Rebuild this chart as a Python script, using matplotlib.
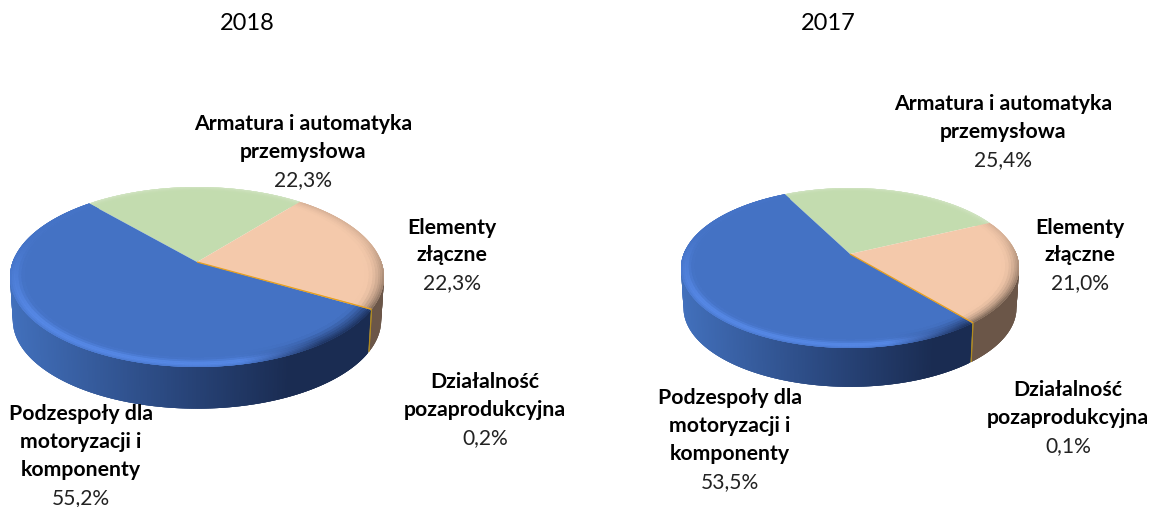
import numpy as np
import matplotlib
matplotlib.use("Agg")
import matplotlib.pyplot as plt
from matplotlib.collections import PolyCollection
from matplotlib.colors import to_rgb

plt.rcParams['font.family'] = ['Lato', 'DejaVu Sans']

# ---- data ----
segments = ["Armatura i automatyka\nprzemysłowa", "Elementy\nzłączne",
            "Działalność\npozaprodukcyjna", "Podzespoły dla\nmotoryzacji i\nkomponenty"]
values_2018 = [22.3, 22.3, 0.2, 55.2]
values_2017 = [25.4, 21.0, 0.1, 53.5]
labels_2018 = ["22,3%", "22,3%", "0,2%", "55,2%"]
labels_2017 = ["25,4%", "21,0%", "0,1%", "53,5%"]
colors = ["#C3DCAF", "#F4C9AB", "#E8A020", "#4472C4"]
side_right = ["#8AA07A", "#6B5648", "#B08A20", "#1A2C52"]

# ---- layout (pixels of the 1156x507 canvas) ----
pies = [
    dict(title="2018", tx=247, vals=values_2018, labs=labels_2018, cx=197, cy=277, rx=187, ry=90,
         k=1/6, depth=43, start=131.2,
         pos=[(303, 124.5), (452, 227.5), (485, 382.5), (81, 414.5)]),
    dict(title="2017", tx=828, vals=values_2017, labs=labels_2017, cx=850, cy=268, rx=169, ry=80,
         k=0.175, depth=40, start=117.0,
         pos=[(1003, 104.5), (1080, 227.5), (1068, 390.5), (730, 398.5)]),
]
LINE = 27.8

fig = plt.figure(figsize=(11.56, 5.07), dpi=100)
ax = fig.add_axes([0, 0, 1, 1])
ax.set_xlim(0, 1156)
ax.set_ylim(507, 0)
ax.axis('off')


def mix(a, b, t):
    t = float(np.clip(t, 0, 1))
    return tuple((1 - t) * x + t * y for x, y in zip(to_rgb(a), to_rgb(b)))


def draw_pie(ax, p):
    k = p['k']
    a = p['rx'] * np.sqrt(1 - k * k)

    def project(theta, r=1.0, drop=0.0, s=1.0):
        u, v = r * np.cos(theta), r * np.sin(theta)
        w = 1 + k * v
        return (p['cx'] + s * a * u / w,
                p['cy'] + drop - s * p['ry'] * (v + k) / w)

    # slice boundaries run clockwise from the start angle
    angs = np.radians(p['start'] - np.cumsum([0] + list(p['vals'])) * 3.6)

    # side wall: overlapping strips painted in order, so no seams show
    polys, cols = [], []
    for i in range(4):
        step = np.radians(0.5)
        n = max(2, int(abs(angs[i] - angs[i + 1]) / step))
        th = np.linspace(angs[i], angs[i + 1], n + 1)
        for t0, t1 in zip(th[:-1], th[1:]):
            if np.sin((t0 + t1) / 2) > 0.05:
                continue
            t1x = max(t1 - 2 * step, angs[i + 1])
            tt = np.linspace(t0, t1x, 4)
            top = [project(t) for t in tt]
            bot = [project(t, drop=p['depth'], s=0.985) for t in tt[::-1]]
            f = (project(t0)[0] - (p['cx'] - p['rx'])) / (2 * p['rx'])
            if i == 3:
                if f < 0.45:
                    c = mix("#4270BC", "#29467C", f / 0.45)
                else:
                    c = mix("#29467C", side_right[3], (f - 0.45) / 0.3)
            else:
                c = side_right[i]
            polys.append(top + bot)
            cols.append(c)
    ax.add_collection(PolyCollection(polys, facecolors=cols, edgecolors='none', zorder=2))

    # top face: one solid sector per slice
    polys, cols = [], []
    for i in range(4):
        tt = np.linspace(angs[i], angs[i + 1], 200)
        polys.append([project(0, 0.0)] + [project(t) for t in tt])
        cols.append(colors[i])
    ax.add_collection(PolyCollection(polys, facecolors=cols, edgecolors='none', zorder=3))

    # soft bevel at the front rim: outer rings first, inner ones overlap them
    rings = [0.90, 0.92, 0.94, 0.955, 0.97, 0.98, 0.99, 1.0]
    polys, cols = [], []
    for i in (0, 1, 3):
        step = np.radians(1.0)
        n = max(2, int(abs(angs[i] - angs[i + 1]) / step))
        th = np.linspace(angs[i], angs[i + 1], n + 1)
        for t0, t1 in zip(th[:-1], th[1:]):
            tm = (t0 + t1) / 2
            f = (project(tm)[0] - (p['cx'] - p['rx'])) / (2 * p['rx'])
            facing = np.clip((0.25 - np.sin(tm)) / 0.8, 0, 1)
            t1x = max(t1 - 2 * step, angs[i + 1])
            for r0, r1 in zip(rings[::-1][1:], rings[::-1][:-1]):
                rm = (r0 + r1) / 2
                h = np.clip((rm - 0.90) / 0.10, 0, 1)
                if i == 3:
                    peak = np.exp(-((rm - 0.972) / 0.028) ** 2)
                    light = mix(colors[3], "#5688E6", peak * (0.1 + 0.9 * facing))
                    dark = mix(colors[3], "#1E3360", h ** 1.3)
                    c = mix(light, dark, np.clip((f - 0.62) / 0.22, 0, 1))
                elif i == 1:
                    c = mix(colors[1], "#7A6556", h ** 2 * (0.25 + 0.75 * facing))
                else:
                    c = mix(colors[0], "#EAF2E2", h ** 3 * 0.4)
                tt = np.linspace(t0, t1x, 4)
                polys.append([project(t, r0) for t in tt] + [project(t, r1) for t in tt[::-1]])
                cols.append(c)
    ax.add_collection(PolyCollection(polys, facecolors=cols, edgecolors='none', zorder=3.5))

    # thin slice seam
    sm = (angs[2] + angs[3]) / 2
    xa, ya = project(sm, 0.0)
    xb, yb = project(sm, 1.0)
    xc, yc = project(sm, 1.0, drop=p['depth'], s=0.985)
    ax.plot([xa, xb], [ya, yb], color=colors[2], lw=0.9, zorder=4, solid_capstyle='butt')
    ax.plot([xb, xc], [yb, yc], color=side_right[2], lw=0.9, zorder=4, solid_capstyle='butt')

    # text
    ax.text(p['tx'], 24, p['title'], ha='center', va='center', fontsize=17, color='black')
    for seg, lab, (x, y) in zip(segments, p['labs'], p['pos']):
        lines = seg.split("\n")
        for j, line in enumerate(lines):
            ax.text(x, y + j * LINE, line, ha='center', va='center', fontsize=15.3,
                    fontweight='bold', color='black', zorder=6)
        ax.text(x, y + len(lines) * LINE, lab, ha='center', va='center', fontsize=15.1,
                color='#222222', zorder=6)


for p in pies:
    draw_pie(ax, p)

fig.savefig("out.png", dpi=100, facecolor='white')
